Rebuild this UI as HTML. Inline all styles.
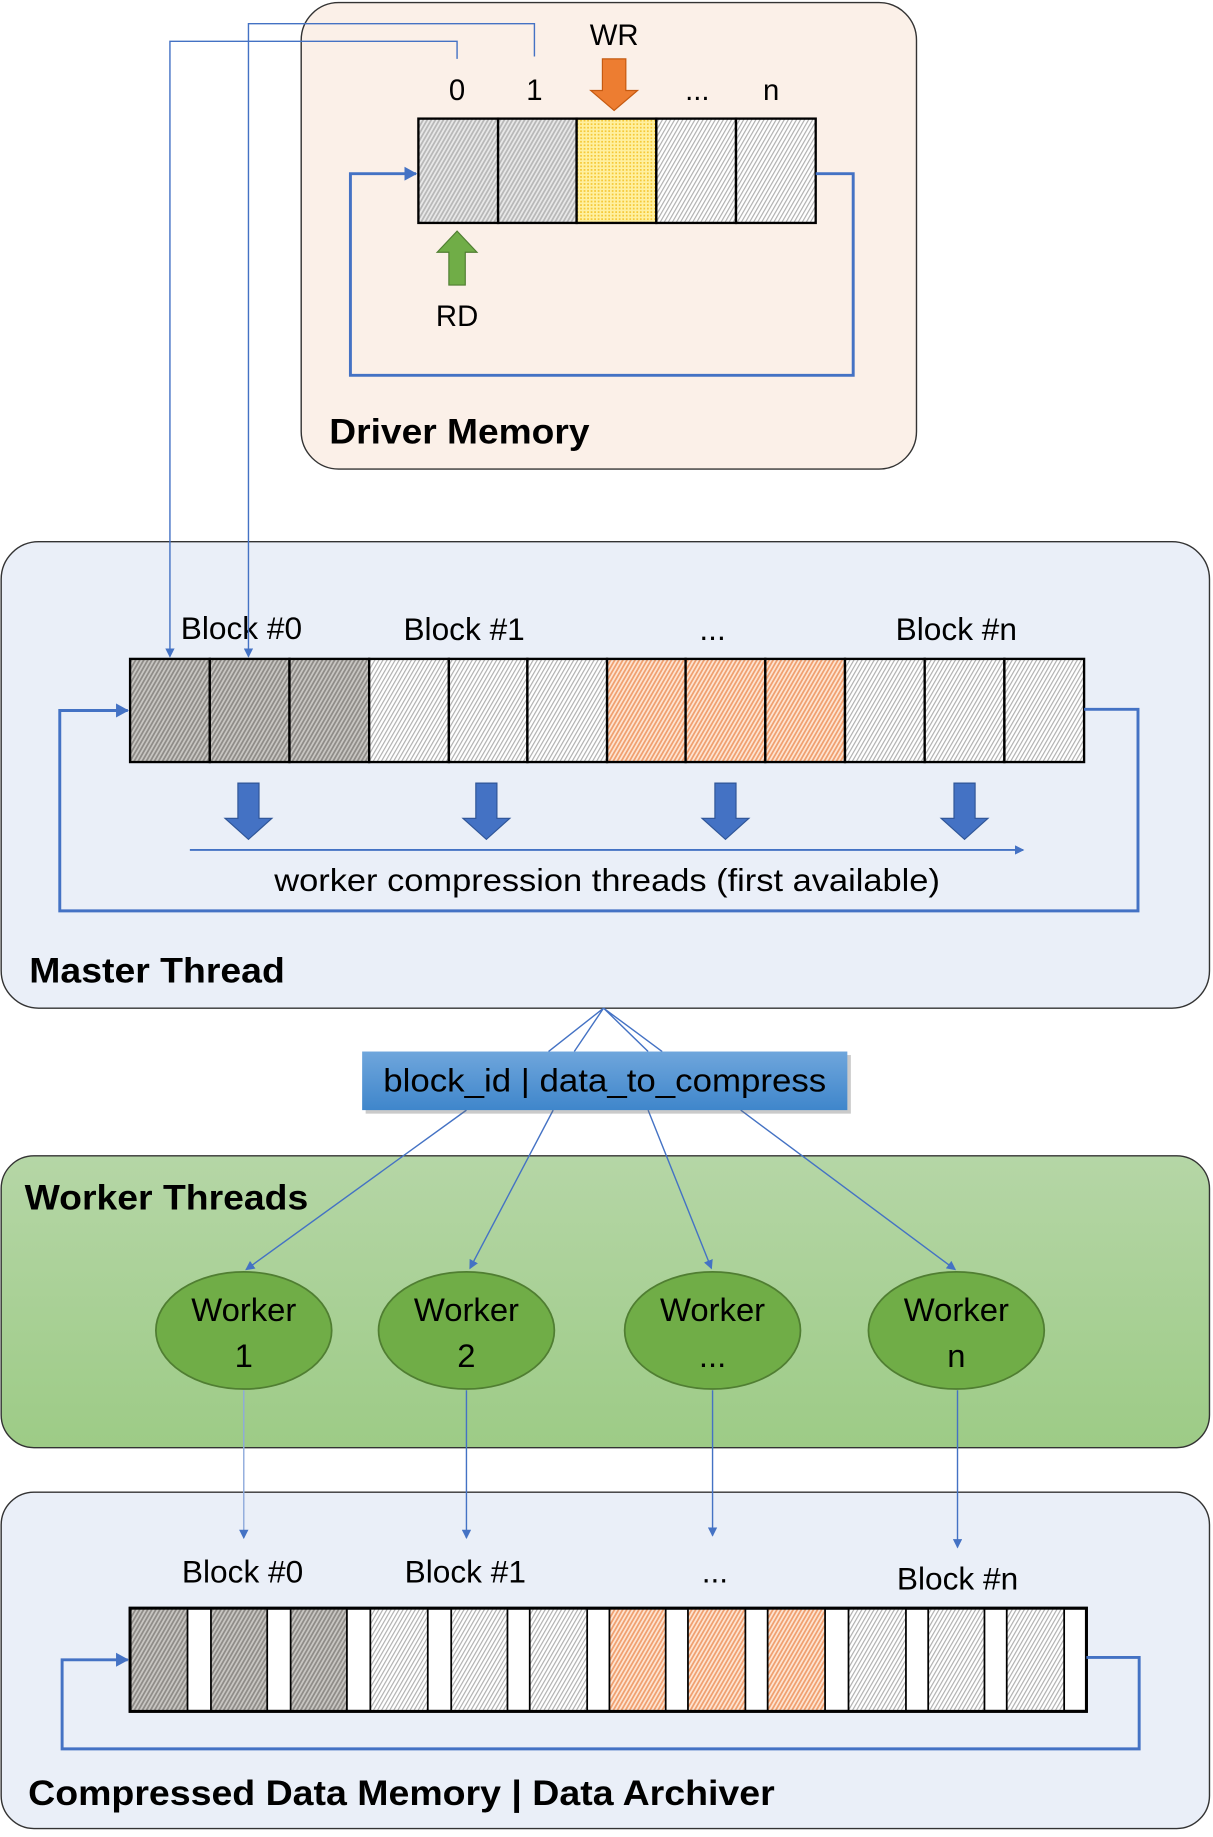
<!DOCTYPE html>
<html><head><meta charset="utf-8"><style>html,body{margin:0;padding:0;background:#fff}svg{display:block}text{font-family:"Liberation Sans",sans-serif}</style></head><body>
<svg width="1213" height="1837" viewBox="0 0 1035 1567" xmlns="http://www.w3.org/2000/svg">
<defs>
<pattern id="hd" width="3" height="3" patternUnits="userSpaceOnUse" patternTransform="rotate(30)"><rect width="3" height="3" fill="#c8c6c2"/><rect width="1.5" height="3" fill="#8f8c88"/></pattern>
<pattern id="hl" width="3" height="3" patternUnits="userSpaceOnUse" patternTransform="rotate(30)"><rect width="3" height="3" fill="#fff"/><rect width="1" height="3" fill="#b0b0b0"/></pattern>
<pattern id="ho" width="3" height="3" patternUnits="userSpaceOnUse" patternTransform="rotate(30)"><rect width="3" height="3" fill="#fde4d2"/><rect width="1.5" height="3" fill="#f0a070"/></pattern>
<pattern id="hg" width="3" height="3" patternUnits="userSpaceOnUse" patternTransform="rotate(30)"><rect width="3" height="3" fill="#e8e8e8"/><rect width="1.5" height="3" fill="#b8b8b8"/></pattern>
<pattern id="hy" width="3" height="3" patternUnits="userSpaceOnUse"><rect width="3" height="3" fill="#fff0a0"/><rect width="1.5" height="1.5" fill="#f5c93a"/></pattern>
<linearGradient id="gg" x1="0" y1="0" x2="0" y2="1"><stop offset="0" stop-color="#b5d6a6"/><stop offset="1" stop-color="#9dcb86"/></linearGradient>
<linearGradient id="bg" x1="0" y1="0" x2="0" y2="1"><stop offset="0" stop-color="#6fa6dc"/><stop offset="1" stop-color="#3f86cb"/></linearGradient>
<marker id="a" markerWidth="8" markerHeight="8" refX="7" refY="4" orient="auto" markerUnits="userSpaceOnUse"><path d="M0,0L8,4L0,8z" fill="#4472c4"/></marker>
<marker id="ab" markerWidth="12" markerHeight="12" refX="10" refY="6" orient="auto" markerUnits="userSpaceOnUse"><path d="M0,0L11,6L0,12z" fill="#4472c4"/></marker>
</defs>

<rect x="257" y="2" width="525" height="398" rx="32" fill="#fbf0e8" stroke="#333" stroke-width="1.2"/>
<rect x="357" y="101" width="68" height="89" fill="url(#hg)" stroke="#000" stroke-width="2"/>
<rect x="425" y="101" width="67" height="89" fill="url(#hg)" stroke="#000" stroke-width="2"/>
<rect x="492" y="101" width="68" height="89" fill="url(#hy)" stroke="#000" stroke-width="2"/>
<rect x="560" y="101" width="68" height="89" fill="url(#hl)" stroke="#000" stroke-width="2"/>
<rect x="628" y="101" width="68" height="89" fill="url(#hl)" stroke="#000" stroke-width="2"/>
<g font-size="25" text-anchor="middle"><text x="390" y="85">0</text><text x="456" y="85">1</text><text x="595" y="85">...</text><text x="658" y="85">n</text><text x="524" y="38">WR</text><text x="390" y="278">RD</text></g>
<path d="M514,50h20v27h10l-20,17l-20,-17h10z" fill="#ed7d31" stroke="#c55a11"/>
<path d="M383,243h14v-28h10l-17,-18l-17,18h10z" fill="#70ad47" stroke="#507e32"/>
<path d="M696,148H728V320H299V148H355" fill="none" stroke="#4472c4" stroke-width="2.5" marker-end="url(#ab)"/>
<text x="281" y="378" font-size="30" font-weight="bold" textLength="222" lengthAdjust="spacingAndGlyphs">Driver Memory</text>

<rect x="1" y="462" width="1031" height="398" rx="32" fill="#eaeff8" stroke="#333" stroke-width="1.2"/>
<g stroke="#000" stroke-width="2">
<rect x="111" y="562" width="68" height="88" fill="url(#hd)"/><rect x="179" y="562" width="68" height="88" fill="url(#hd)"/><rect x="247" y="562" width="68" height="88" fill="url(#hd)"/>
<rect x="315" y="562" width="68" height="88" fill="url(#hl)"/><rect x="383" y="562" width="67" height="88" fill="url(#hl)"/><rect x="450" y="562" width="68" height="88" fill="url(#hl)"/>
<rect x="518" y="562" width="67" height="88" fill="url(#ho)"/><rect x="585" y="562" width="68" height="88" fill="url(#ho)"/><rect x="653" y="562" width="68" height="88" fill="url(#ho)"/>
<rect x="721" y="562" width="68" height="88" fill="url(#hl)"/><rect x="789" y="562" width="68" height="88" fill="url(#hl)"/><rect x="857" y="562" width="68" height="88" fill="url(#hl)"/>
</g>
<g font-size="27" text-anchor="middle"><text x="206" y="545">Block #0</text><text x="396" y="546">Block #1</text><text x="608" y="546">...</text><text x="816" y="546">Block #n</text></g>
<g fill="#4472c4" stroke="#2f5597" stroke-width="1">
<path d="M203,668h18v30h11l-20,18l-20,-18h11z"/><path d="M406,668h18v30h11l-20,18l-20,-18h11z"/><path d="M610,668h18v30h11l-20,18l-20,-18h11z"/><path d="M814,668h18v30h11l-20,18l-20,-18h11z"/>
</g>
<path d="M162,725H873" stroke="#4472c4" stroke-width="1.5" marker-end="url(#a)"/>
<text x="518" y="760" font-size="27" text-anchor="middle" textLength="568" lengthAdjust="spacingAndGlyphs">worker compression threads (first available)</text>
<path d="M925,605H971V777H51V606H109" fill="none" stroke="#4472c4" stroke-width="2.5" marker-end="url(#ab)"/>
<text x="25" y="838" font-size="30" font-weight="bold" textLength="218" lengthAdjust="spacingAndGlyphs">Master Thread</text>

<path d="M390,50V35H145V560" fill="none" stroke="#4472c4" stroke-width="1.2" marker-end="url(#a)"/>
<path d="M456,48V20H212V560" fill="none" stroke="#4472c4" stroke-width="1.2" marker-end="url(#a)"/>

<rect x="1" y="986" width="1031" height="249" rx="28" fill="url(#gg)" stroke="#333" stroke-width="1.2"/>
<text x="21" y="1032" font-size="30" font-weight="bold" textLength="242" lengthAdjust="spacingAndGlyphs">Worker Threads</text>
<g stroke="#4472c4" stroke-width="1.2" fill="none">
<path d="M515,860L468,897M515,860L565,897M515,860L553,897M515,860L490,897"/>
<path d="M398,947L210,1083" marker-end="url(#a)"/><path d="M472,947L401,1082" marker-end="url(#a)"/><path d="M553,947L607,1082" marker-end="url(#a)"/><path d="M632,947L815,1083" marker-end="url(#a)"/>
</g>
<rect x="312" y="900" width="414" height="50" fill="#666" opacity="0.35"/>
<rect x="309" y="897" width="414" height="50" fill="url(#bg)"/>
<text x="516" y="931" font-size="28" text-anchor="middle" textLength="378" lengthAdjust="spacingAndGlyphs">block_id | data_to_compress</text>
<g fill="#70ad47" stroke="#507e32" stroke-width="1.5">
<ellipse cx="208" cy="1135" rx="75" ry="50"/><ellipse cx="398" cy="1135" rx="75" ry="50"/><ellipse cx="608" cy="1135" rx="75" ry="50"/><ellipse cx="816" cy="1135" rx="75" ry="50"/>
</g>
<g font-size="28" text-anchor="middle"><text x="208" y="1127">Worker</text><text x="208" y="1166">1</text><text x="398" y="1127">Worker</text><text x="398" y="1166">2</text><text x="608" y="1127">Worker</text><text x="608" y="1166">...</text><text x="816" y="1127">Worker</text><text x="816" y="1166">n</text></g>

<rect x="1" y="1273" width="1031" height="287" rx="28" fill="#eaeff8" stroke="#333" stroke-width="1.2"/>
<g stroke="#4472c4" stroke-width="1.2">
<path d="M208,1186V1312" stroke="#8eaadb" marker-end="url(#a)"/><path d="M398,1186V1312" marker-end="url(#a)"/><path d="M608,1186V1310" marker-end="url(#a)"/><path d="M817,1186V1320" marker-end="url(#a)"/>
</g>
<g font-size="27" text-anchor="middle"><text x="207" y="1350">Block #0</text><text x="397" y="1350">Block #1</text><text x="610" y="1350">...</text><text x="817" y="1356">Block #n</text></g>
<rect x="111" y="1372" width="816" height="88" fill="#fff" stroke="#000" stroke-width="2.5"/>
<g stroke="#000" stroke-width="1.5">
<rect x="111" y="1372" width="49" height="88" fill="url(#hd)"/><rect x="180" y="1372" width="48" height="88" fill="url(#hd)"/><rect x="248" y="1372" width="48" height="88" fill="url(#hd)"/>
<rect x="316" y="1372" width="49" height="88" fill="url(#hl)"/><rect x="385" y="1372" width="48" height="88" fill="url(#hl)"/><rect x="452" y="1372" width="49" height="88" fill="url(#hl)"/>
<rect x="520" y="1372" width="48" height="88" fill="url(#ho)"/><rect x="587" y="1372" width="49" height="88" fill="url(#ho)"/><rect x="655" y="1372" width="49" height="88" fill="url(#ho)"/>
<rect x="724" y="1372" width="49" height="88" fill="url(#hl)"/><rect x="792" y="1372" width="48" height="88" fill="url(#hl)"/><rect x="859" y="1372" width="49" height="88" fill="url(#hl)"/>
</g>
<rect x="111" y="1372" width="816" height="88" fill="none" stroke="#000" stroke-width="2.5"/>
<path d="M927,1414H972V1492H53V1416H109" fill="none" stroke="#4472c4" stroke-width="2.5" marker-end="url(#ab)"/>
<text x="24" y="1540" font-size="30" font-weight="bold" textLength="637" lengthAdjust="spacingAndGlyphs">Compressed Data Memory | Data Archiver</text>
</svg>
</body></html>
